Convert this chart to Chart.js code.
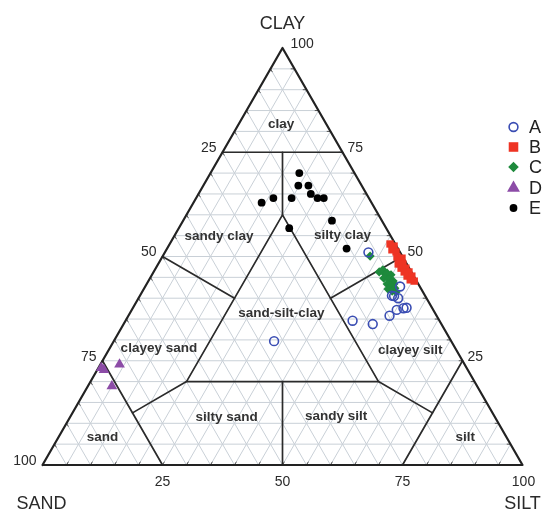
<!DOCTYPE html>
<html>
<head>
<meta charset="utf-8">
<script src="https://cdn.jsdelivr.net/npm/chart.js@4/dist/chart.umd.min.js"></script>
<style>
  html, body { margin: 0; padding: 0; background: #fff; }
  #wrap { width: 542px; height: 512px; }
</style>
</head>
<body>
<div id="wrap"><canvas id="tern" width="542" height="512"></canvas></div>
<script>
// --- data: percentages (sand = 100 - silt - clay) ---
const groupNames = ['A', 'B', 'C', 'D', 'E'];

const aClay = [51.0, 42.8, 40.6, 40.5, 40.0, 37.7, 37.6, 37.2, 35.8, 33.8, 34.6, 29.7];
const aSilt = [42.4, 53.1, 52.5, 53.0, 54.1, 57.0, 56.4, 55.2, 54.4, 51.9, 47.3, 33.4];

const bClay = [53.0, 52.5, 51.6, 51.1, 49.9, 49.2, 49.6, 48.2, 48.2, 47.2, 47.2, 46.3, 46.3, 45.3, 45.3, 44.4, 44.1];
const bSilt = [45.9, 47.0, 47.0, 48.1, 48.9, 49.9, 50.1, 50.0, 51.0, 51.1, 52.1, 52.2, 53.2, 53.3, 54.3, 54.4, 55.4];

const cClay = [50.1, 46.3, 46.8, 45.8, 46.0, 45.6, 44.8, 44.6, 44.1, 43.4, 43.4, 42.9, 42.4, 42.2, 41.7, 41.5];
const cSilt = [43.2, 47.0, 47.5, 48.5, 48.8, 49.8, 48.7, 49.9, 51.0, 50.1, 51.5, 51.2, 52.2, 50.9, 52.0, 52.9];

const dClay = [22.8, 24.1, 18.9, 23.3];
const dSilt = [1.4, 4.0, 5.0, 0.6];

const eClay = [70.0, 67.0, 67.0, 65.0, 64.0, 64.0, 64.0, 64.0, 62.9, 58.6, 56.8, 51.9];
const eSilt = [18.5, 19.8, 21.9, 23.4, 25.3, 26.6, 19.9, 16.1, 14.2, 31.0, 23.0, 37.4];

// axis ticks
const tickValues = [25, 50, 75, 100];
const gridStep = 5;

// class boundaries, each point is [sand, silt, clay]
const boundaries = [
    [[25, 0, 75], [0, 25, 75]],
    [[12.5, 12.5, 75], [20, 20, 60]],
    [[20, 20, 60], [60, 20, 20], [20, 60, 20], [20, 20, 60]],
    [[50, 0, 50], [40, 20, 40]],
    [[0, 50, 50], [20, 40, 40]],
    [[40, 40, 20], [50, 50, 0]],
    [[60, 20, 20], [75, 12.5, 12.5]],
    [[20, 60, 20], [12.5, 75, 12.5]],
    [[75, 0, 25], [75, 25, 0]],
    [[0, 75, 25], [25, 75, 0]]
];
const outline = [[100, 0, 0], [0, 100, 0], [0, 0, 100], [100, 0, 0]];

// class names and where they sit [sand, silt, clay]
const classNames = ['clay', 'sandy clay', 'silty clay', 'sand-silt-clay', 'clayey sand',
    'clayey silt', 'silty sand', 'sandy silt', 'sand', 'silt'];
const classPos = [[9.4, 8.8, 81.8], [35.8, 9.3, 54.9], [9.9, 34.9, 55.2], [32.0, 31.5, 36.5], [61.7, 10.2, 28.1],
    [9.6, 62.8, 27.6], [55.9, 32.6, 11.5], [33.0, 55.3, 11.7], [84.2, 9.2, 6.6], [8.6, 84.7, 6.7]];

// ternary -> chart coordinates
function tern(sand, silt, clay) {
    return { x: silt + clay / 2, y: clay };
}
function pts(clay, silt) {
    return clay.map((c, i) => tern(100 - c - silt[i], silt[i], c));
}

const estilos = [
    { data: pts(aClay, aSilt), pointStyle: 'circle', radius: 4.4, color: '#3a4db3', fill: 'rgba(0,0,0,0)', bw: 1.6 },
    { data: pts(bClay, bSilt), pointStyle: 'rect', radius: 5.2, color: '#ee3424', fill: '#ee3424', bw: 0 },
    { data: pts(cClay, cSilt), pointStyle: 'rectRot', radius: 4.6, color: '#1e8a3c', fill: '#1e8a3c', bw: 0 },
    { data: pts(dClay, dSilt), pointStyle: 'triangle', radius: 6.2, color: '#8c4ca7', fill: '#8c4ca7', bw: 0 },
    { data: pts(eClay, eSilt), pointStyle: 'circle', radius: 3.9, color: '#000', fill: '#000', bw: 0 }
];
const legScale = [1.0, 1.3, 1.15, 1.2, 1.0];

const datasets = estilos.map((s, i) => ({
    label: groupNames[i],
    data: s.data,
    pointStyle: s.pointStyle,
    pointRadius: s.radius,
    pointBackgroundColor: s.fill,
    pointBorderColor: s.color,
    pointBorderWidth: s.bw,
    showLine: false,
    clip: false
}));

const FONT = "'Liberation Sans', Arial, sans-serif";

function px(chart, p) {
    const t = tern(p[0], p[1], p[2]);
    return [chart.scales.x.getPixelForValue(t.x), chart.scales.y.getPixelForValue(t.y)];
}
function poly(ctx, chart, list) {
    ctx.beginPath();
    list.forEach((p, i) => {
        const [x, y] = px(chart, p);
        if (i === 0) ctx.moveTo(x, y); else ctx.lineTo(x, y);
    });
    ctx.stroke();
}

// grade, limites e textos das classes
const fundo = {
    id: 'fundo',
    beforeDatasetsDraw(chart) {
        const ctx = chart.ctx;
        ctx.save();
        ctx.lineCap = 'round';
        ctx.lineJoin = 'round';

        // grid
        ctx.strokeStyle = '#c9d0d7';
        ctx.lineWidth = 1;
        for (let k = gridStep; k < 100; k += gridStep) {
            poly(ctx, chart, [[100 - k, 0, k], [0, 100 - k, k]]);
            poly(ctx, chart, [[k, 100 - k, 0], [k, 0, 100 - k]]);
            poly(ctx, chart, [[100 - k, k, 0], [0, k, 100 - k]]);
        }

        // small ticks on the edges
        ctx.strokeStyle = '#555';
        ctx.lineWidth = 1;
        const t = 0.7;
        for (let k = gridStep; k < 100; k += gridStep) {
            poly(ctx, chart, [[100 - k, k, 0], [100 - k - t, k, t]]);
            poly(ctx, chart, [[100 - k, 0, k], [100 - k, t, k - t]]);
            poly(ctx, chart, [[0, 100 - k, k], [t, 100 - k - t, k]]);
        }

        // class boundaries
        ctx.strokeStyle = '#2b2b2b';
        ctx.lineWidth = 1.7;
        boundaries.forEach(b => poly(ctx, chart, b));

        ctx.lineWidth = 2.2;
        ctx.strokeStyle = '#222';
        poly(ctx, chart, outline);

        // class names
        ctx.fillStyle = '#333';
        ctx.font = 'bold 13.5px ' + FONT;
        ctx.textAlign = 'center';
        ctx.textBaseline = 'middle';
        classNames.forEach((n, i) => {
            const [x, y] = px(chart, classPos[i]);
            ctx.fillText(n, x, y);
        });
        ctx.restore();
    },
    afterDraw(chart) {
        const ctx = chart.ctx;
        ctx.save();
        ctx.fillStyle = '#2a2a2a';
        ctx.font = '14px ' + FONT;
        ctx.textBaseline = 'middle';

        tickValues.forEach(v => {
            // sand axis (left edge)
            let [x, y] = px(chart, [v, 0, 100 - v]);
            ctx.textAlign = 'right';
            ctx.fillText(String(v), x - 6, y - 4);
            // clay axis (right edge)
            [x, y] = px(chart, [0, 100 - v, v]);
            ctx.textAlign = 'left';
            ctx.fillText(String(v), x + (v === 100 ? 8 : 5), y - 4);
            // silt axis (bottom)
            [x, y] = px(chart, [100 - v, v, 0]);
            ctx.textAlign = 'center';
            ctx.fillText(String(v), x + (v === 100 ? 1 : 0), y + 17);
        });

        ctx.font = '18px ' + FONT;
        ctx.textAlign = 'center';
        let [x, y] = px(chart, [0, 0, 100]);
        ctx.fillText('CLAY', x, y - 24);
        [x, y] = px(chart, [100, 0, 0]);
        ctx.fillText('SAND', x - 1, y + 39);
        [x, y] = px(chart, [0, 100, 0]);
        ctx.fillText('SILT', x, y + 39);

        // legenda
        const legY = [127, 147, 167, 188, 208];
        const draw = Chart.helpers && Chart.helpers.drawPoint;
        ctx.font = '18px ' + FONT;
        ctx.textAlign = 'left';
        chart.data.datasets.forEach((ds, i) => {
            const s = estilos[i];
            ctx.fillStyle = s.fill;
            ctx.strokeStyle = s.color;
            ctx.lineWidth = s.bw || 0;
            if (draw) {
                draw(ctx, { pointStyle: s.pointStyle, radius: s.radius * legScale[i], borderWidth: s.bw, rotation: 0 }, 513.5, legY[i]);
            }
            ctx.fillStyle = '#222';
            ctx.fillText(ds.label, 529, legY[i] + 1);
        });
        ctx.restore();
    }
};

new Chart(document.getElementById('tern'), {
    type: 'scatter',
    data: { datasets },
    options: {
        responsive: false,
        animation: false,
        layout: { padding: { left: 42.5, right: 19.5, top: 48, bottom: 47 } },
        scales: {
            x: { type: 'linear', min: 0, max: 100, display: false },
            y: { type: 'linear', min: 0, max: 100, display: false }
        },
        plugins: {
            legend: { display: false },
            tooltip: { enabled: false }
        }
    },
    plugins: [fundo]
});
</script>
</body>
</html>
